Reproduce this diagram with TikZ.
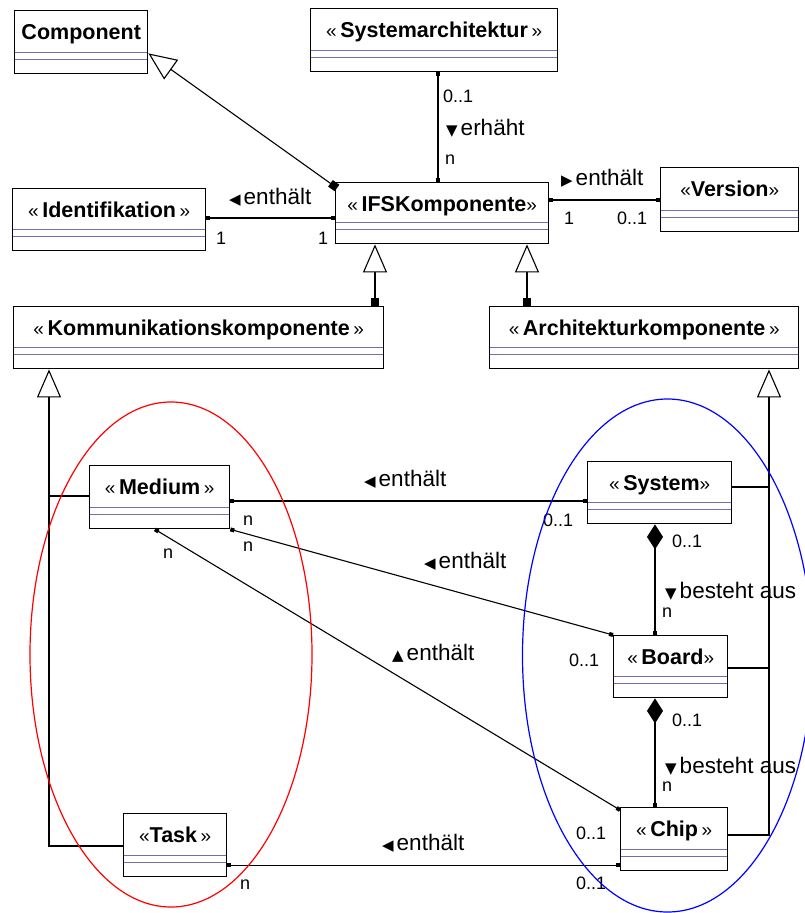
\documentclass[tikz,border=0pt]{standalone}
\usepackage{fontspec}
\setmainfont{Liberation Sans}
\newfontfamily\symfont{DejaVu Sans}
\usetikzlibrary{arrows.meta,calc}

\definecolor{sepblue}{RGB}{112,112,172}

% small guillemets around stereotype names
\newcommand\gl{{\fontsize{19}{19}\selectfont\mdseries«}}
\newcommand\gr{{\fontsize{19}{19}\selectfont\mdseries»}}
% reading-direction markers
\newcommand\dirmark[1]{{\symfont\fontsize{15}{15}\selectfont #1}\hspace{3pt}}

% class box: name, x, y (top left), width, height, title
\newcommand\umlclass[6]{%
  \node[cls, minimum width=#4pt, minimum height=#5pt] (#1) at (#2,#3) {};
  \node[ttl, anchor=base] (#1-t) at ([yshift=-29.5pt]#1.north) {#6};}

\tikzset{
  sepline/.style={draw=sepblue, line width=1.2pt},
  cls/.style={draw, line width=1.4pt, fill=white, inner sep=0pt, anchor=north west,
    path picture={
      \draw[sepline] ([yshift=21pt]path picture bounding box.south west) -- ([yshift=21pt]path picture bounding box.south east);
      \draw[sepline] ([yshift=14pt]path picture bounding box.south west) -- ([yshift=14pt]path picture bounding box.south east);}},
  ttl/.style={font=\fontsize{21.5}{21.5}\selectfont\bfseries, inner sep=0pt},
  lbl/.style={font=\fontsize{22.5}{23}\selectfont, inner sep=0pt, anchor=west},
  mult/.style={font=\fontsize{18}{18}\selectfont, inner sep=0pt, anchor=west},
  conn/.style={line width=1.1pt},
  assoc/.style={conn, {Square[length=4pt,width=4pt]}-{Square[length=4pt,width=4pt]}},
  gen/.style={conn, -{Triangle[open, length=28pt, width=24pt, fill=white, line width=1.1pt]}},
  genq/.style={conn, {Square[length=8pt,width=8pt]}-{Triangle[open, length=28pt, width=24pt, fill=white, line width=1.1pt]}},
  compo/.style={conn, {Diamond[length=25pt,width=16pt]}-{Square[length=4pt,width=4pt]}},
  group/.style={line width=1.2pt},
}

\begin{document}
\begin{tikzpicture}[x=1pt, y=-1pt]
  \fill[white] (0,0) rectangle (805,913);
  \useasboundingbox (0,0) rectangle (805,913);

  % classes
  \umlclass{comp}{14}{10}{133}{63}{Component}
  \umlclass{sysarch}{310}{8}{247}{63}{\gl\,Systemarchitektur\,\gr}
  \umlclass{ifs}{335}{182}{213}{61}{\gl\,IFSKomponente\gr}
  \umlclass{ident}{12}{188}{193}{62}{\gl\,Identifikation\,\gr}
  \umlclass{version}{660}{167}{138}{64}{\gl Version\gr}
  \umlclass{komm}{13}{306}{370}{62}{\gl\,Kommunikationskomponente\,\gr}
  \umlclass{arch}{489}{306}{309}{62}{\gl\,Architekturkomponente\,\gr}
  \umlclass{medium}{89}{465}{140}{63}{\gl\,Medium\,\gr}
  \umlclass{system}{587}{461}{144}{62}{\gl\,System\gr}
  \umlclass{board}{613}{635}{114}{62}{\gl\,Board\gr}
  \umlclass{chip}{620}{807}{107}{63}{\gl\,Chip\,\gr}
  \umlclass{task}{123}{813}{103}{63}{\gl Task\,\gr}

  % associations of the interface component
  \coordinate (a1) at ($(ident.north east)+(0,30)$);
  \draw[assoc] (a1) -- (a1 -| ifs.west);
  \coordinate (a2) at ($(version.north west)+(0,33)$);
  \draw[assoc] (a2 -| ifs.east) -- (a2);
  \coordinate (a3) at ($(sysarch.south west)+(128,0)$);
  \draw[assoc] (a3) -- (a3 |- ifs.north);

  % generalizations
  \draw[genq] ($(ifs.north west)+(2,6)$) -- ($(comp.south east)+(0,-21)$);
  \coordinate (g1) at ($(komm.north west)+(362,0)$);
  \draw[genq] (g1) -- (g1 |- ifs.south);
  \coordinate (g2) at ($(arch.north west)+(38,0)$);
  \draw[genq] (g2) -- (g2 |- ifs.south);

  \coordinate (g3) at ($(komm.south west)+(36,0)$);
  \coordinate (tk) at ($(task.north west)+(0,33)$);
  \coordinate (md) at ($(medium.north west)+(0,31)$);
  \draw[gen] (tk) -| (g3);
  \draw[conn] (md) -- (md -| g3);

  \coordinate (g4) at ($(arch.south west)+(280,0)$);
  \coordinate (ch) at ($(chip.north east)+(0,28)$);
  \coordinate (sy) at ($(system.north east)+(0,26)$);
  \coordinate (bd) at ($(board.north east)+(0,33)$);
  \draw[gen] (ch) -| (g4);
  \draw[conn] (sy) -- (sy -| g4);
  \draw[conn] (bd) -- (bd -| g4);

  % associations of the lower part
  \coordinate (m1) at ($(medium.north east)+(0,36)$);
  \draw[assoc] (m1) -- (m1 -| system.west);
  \draw[assoc] (medium.south east) -- (board.north west);
  \draw[assoc] ($(medium.south west)+(66,0)$) -- ($(chip.north west)+(0,3)$);
  \coordinate (c1) at ($(system.south west)+(68,0)$);
  \draw[compo] (c1) -- (c1 |- board.north);
  \coordinate (c2) at ($(board.south west)+(42,0)$);
  \draw[compo] (c2) -- (c2 |- chip.north);
  \coordinate (t1) at ($(task.south east)+(0,-12)$);
  \draw[assoc] (t1) -- (t1 -| chip.west);

  % association names
  \node[lbl] (l1) at (229,197) {\dirmark{◀}enthält};
  \node[lbl] (l2) at (446,128) {\dirmark{▼}erhäht};
  \node[lbl] (l3) at (561,178) {\dirmark{▶}enthält};
  \node[lbl] (l4) at (364,479) {\dirmark{◀}enthält};
  \node[lbl] (l5) at (424,561) {\dirmark{◀}enthält};
  \node[lbl] (l6) at (392,653) {\dirmark{▲}enthält};
  \node[lbl] (l7) at (665,591) {\dirmark{▼}besteht aus};
  \node[lbl] (l8) at (665,766) {\dirmark{▼}besteht aus};
  \node[lbl] (l9) at (382,843) {\dirmark{◀}enthält};

  % multiplicities
  \node[mult] (n1) at (443,96) {0..1};
  \node[mult] (n2) at (445,160) {n};
  \node[mult] (n3) at (564,218) {1};
  \node[mult] (n4) at (617,218) {0..1};
  \node[mult] (n5) at (216,238) {1};
  \node[mult] (n6) at (318,238) {1};
  \node[mult] (n7) at (543,520) {0..1};
  \node[mult] (n8) at (243,521) {n};
  \node[mult] (n9) at (243,547) {n};
  \node[mult] (n10) at (163,554) {n};
  \node[mult] (n11) at (569,660) {0..1};
  \node[mult] (n12) at (672,541) {0..1};
  \node[mult] (n13) at (662,613) {n};
  \node[mult] (n14) at (672,720) {0..1};
  \node[mult] (n15) at (662,787) {n};
  \node[mult] (n16) at (576,833) {0..1};
  \node[mult] (n17) at (576,883) {0..1};
  \node[mult] (n18) at (240,885) {n};

  % grouping ellipses
  \draw[group, red] (171,654.5) ellipse [x radius=141, y radius=252.5];
  \draw[group, blue] (667.5,655.5) ellipse [x radius=145, y radius=256.5];
\end{tikzpicture}
\end{document}
